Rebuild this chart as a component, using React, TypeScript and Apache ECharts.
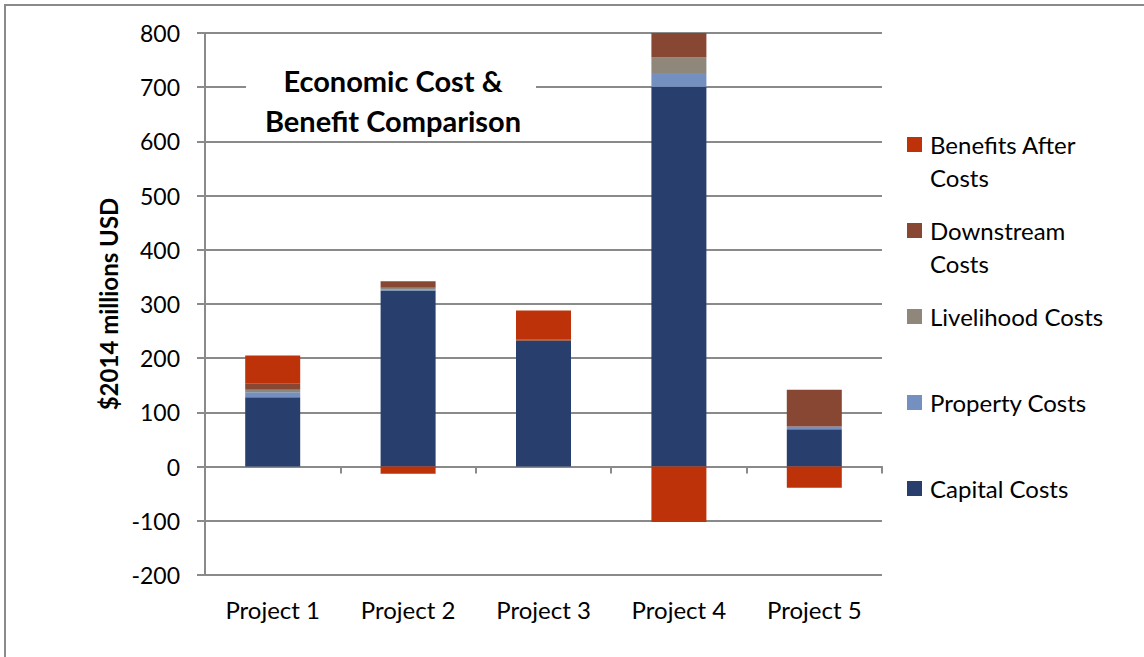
import React, { useEffect, useRef } from "react";
import * as echarts from "echarts";

const categories = ["Project 1", "Project 2", "Project 3", "Project 4", "Project 5"];
const capitalCosts = [128, 325, 232, 701, 69];
const propertyCosts = [9, 2, 0, 25, 5];
const livelihoodCosts = [5, 3, 0, 29, 0];
const downstreamCosts = [12, 12, 2, 45, 68];
const benefitsAfterCosts = [51, -13, 54, -102, -39];

const seriesNames = ["Capital Costs", "Property Costs", "Livelihood Costs", "Downstream Costs", "Benefits After Costs"];
const legendLabels = ["Capital Costs", "Property Costs", "Livelihood Costs", "Downstream\nCosts", "Benefits After\nCosts"];
const seriesData = [capitalCosts, propertyCosts, livelihoodCosts, downstreamCosts, benefitsAfterCosts];
const colors = ["#283f6e", "#7490c0", "#8e877a", "#874733", "#be320a"];
const titleLines = "Economic Cost &\nBenefit Comparison";
const yAxisName = "$2014 millions USD";

const FONT = "Lato, 'Open Sans', sans-serif";
const GRID = "#8a8a8a";

export default function App() {
  const ref = useRef<HTMLDivElement>(null);
  useEffect(() => {
    if (!ref.current) return;
    const chart = echarts.init(ref.current, null, { renderer: "svg" });
    const legendItems: any[] = [];
    const legendY = [489, 403, 317, 231, 145];
    seriesNames.forEach((_, i) => {
      legendItems.push({
        type: "rect",
        shape: { x: 907, y: legendY[i] - 8, width: 15, height: 15 },
        style: { fill: colors[i] },
      });
      legendItems.push({
        type: "text",
        x: 930,
        y: legendY[i] - 17,
        style: {
          text: legendLabels[i],
          font: `24px ${FONT}`,
          fill: "#000",
          lineHeight: 33,
          textVerticalAlign: "top",
        },
      });
    });
    chart.setOption({
      animation: false,
      backgroundColor: "#fff",
      grid: { left: 205, right: 262, top: 33, bottom: 82, containLabel: false, outerBoundsMode: "none" },
      xAxis: [
        {
          type: "category",
          data: categories,
          position: "bottom",
          axisLine: { show: false, onZero: false },
          axisTick: { show: false },
          axisLabel: { margin: 22, fontFamily: FONT, fontSize: 24, color: "#000" },
          splitLine: { show: false },
        },
        {
          type: "category",
          data: categories,
          position: "bottom",
          axisLine: { show: true, onZero: true, lineStyle: { color: GRID, width: 2 } },
          axisTick: { show: true, length: 7, lineStyle: { color: GRID, width: 2 } },
          axisLabel: { show: false },
          splitLine: { show: false },
        },
      ],
      yAxis: {
        type: "value",
        min: -200,
        max: 800,
        interval: 100,
        name: yAxisName,
        nameLocation: "middle",
        nameGap: 85,
        nameTextStyle: { fontFamily: FONT, fontSize: 24, fontWeight: "bold", color: "#000" },
        axisLine: { show: true, lineStyle: { color: GRID, width: 2 } },
        axisTick: { show: true, length: 8, lineStyle: { color: GRID, width: 2 } },
        axisLabel: { margin: 25, fontFamily: FONT, fontSize: 23, color: "#000" },
        splitLine: { show: true, lineStyle: { color: GRID, width: 2 } },
      },
      series: seriesNames.map((name, i) => ({
        name,
        type: "bar",
        stack: "total",
        barWidth: 55,
        xAxisIndex: 0,
        data: seriesData[i],
        itemStyle: { color: colors[i] },
      })),
      graphic: [
        {
          type: "rect",
          z: 100,
          shape: { x: 5, y: 5, width: 1160, height: 670 },
          style: { fill: "none", stroke: "#8a8a8a", lineWidth: 2 },
        },
        {
          type: "rect",
          z: 100,
          shape: { x: 246, y: 62, width: 290, height: 77 },
          style: { fill: "#fff" },
        },
        {
          type: "text",
          z: 101,
          x: 393,
          y: 100,
          style: {
            text: titleLines,
            font: `bold 29px ${FONT}`,
            fill: "#000",
            textAlign: "center",
            textVerticalAlign: "middle",
            lineHeight: 40,
          },
        },
        ...legendItems.map((g) => ({ ...g, z: 100 })),
      ],
    });
    return () => chart.dispose();
  }, []);
  return <div ref={ref} style={{ position: "absolute", left: 0, top: 0, width: 1144, height: 657 }} />;
}
